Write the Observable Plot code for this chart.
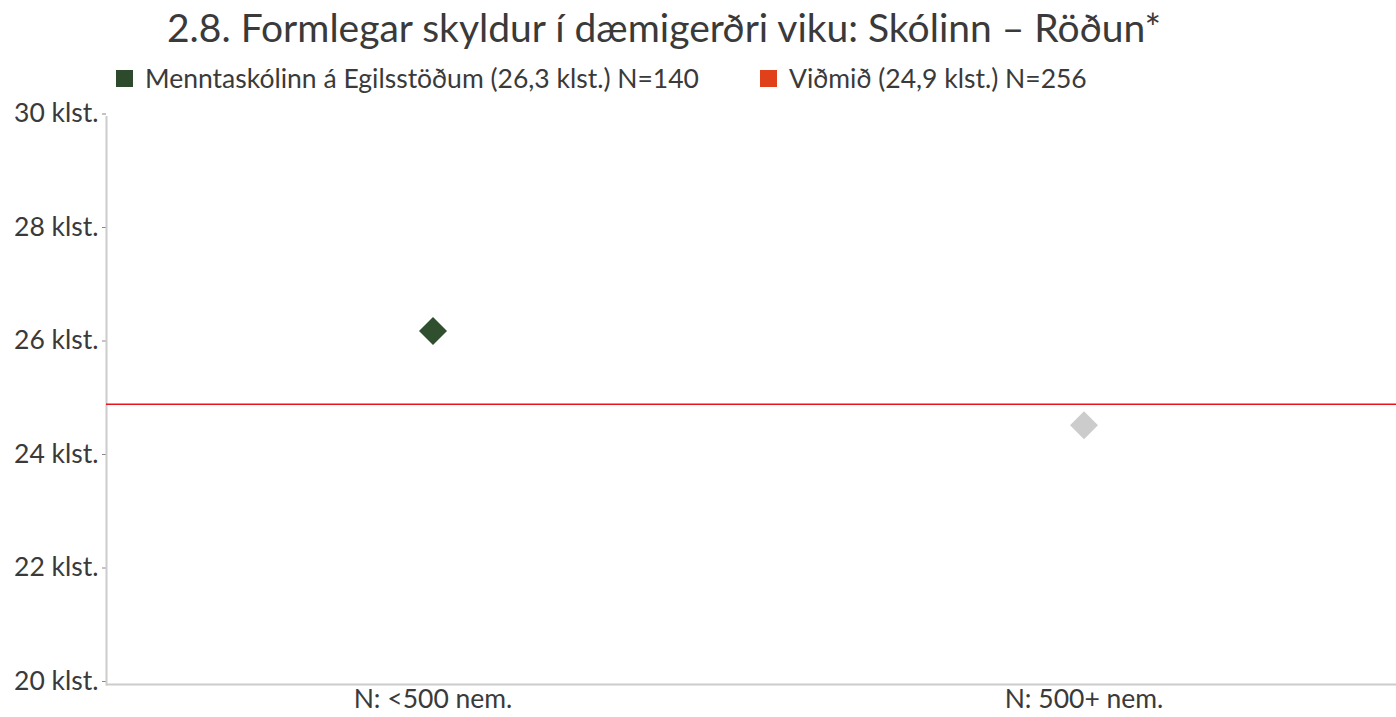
<!DOCTYPE html>
<html>
<head>
<meta charset="utf-8">
<script src="https://cdn.jsdelivr.net/npm/d3@7"></script>
<script src="https://cdn.jsdelivr.net/npm/@observablehq/plot@0.6"></script>
<style>
  html, body { margin: 0; padding: 0; background: #fff; width: 1396px; height: 717px; overflow: hidden; font-family: Lato, "Noto Sans", sans-serif; }
  #title { position: absolute; left: 167px; top: 7.5px; font-size: 39px; line-height: 1; color: #3a3a3a; white-space: nowrap; }
  .sw { position: absolute; top: 70px; width: 17px; height: 17px; }
  .lt { position: absolute; top: 64.5px; font-size: 26.5px; line-height: 1; color: #3a3a3a; white-space: nowrap; }
  #chart { position: absolute; left: 0; top: 95px; }
</style>
</head>
<body>
<div id="title"></div>
<span class="sw" style="left:116px;background:#2d4a2d"></span><span id="lt1" class="lt" style="left:145px"></span>
<span class="sw" style="left:760px;background:#e0401a"></span><span id="lt2" class="lt" style="left:789px"></span>
<div id="chart"></div>
<script>
const title = "2.8. Formlegar skyldur í dæmigerðri viku: Skólinn – Röðun*";
const seriesNames = ["Menntaskólinn á Egilsstöðum (26,3 klst.) N=140", "Viðmið (24,9 klst.) N=256"];
const categories = ["N: <500 nem.", "N: 500+ nem."];
const values = [26.23, 24.57];
const pointColors = ["#2f4f2f", "#cccccc"];
const benchmark = [24.94];
const yTicks = [20, 22, 24, 26, 28, 30];

document.getElementById("title").textContent = title;
document.getElementById("lt1").textContent = seriesNames[0];
document.getElementById("lt2").textContent = seriesNames[1];

const data = categories.map((c, i) => ({cat: c, value: values[i], color: pointColors[i]}));

const chart = Plot.plot({
  width: 1396,
  height: 622,
  marginLeft: 106,
  marginRight: 0,
  marginTop: 21.5,
  marginBottom: 33,
  style: {fontFamily: "Lato, 'Noto Sans', sans-serif", fontSize: "26.5px", color: "#3a3a3a", background: "#fff", overflow: "visible"},
  x: {type: "band", domain: categories, range: [106, 1409], padding: 0, label: null},
  y: {domain: [20, 30], label: null},
  marks: [
    Plot.axisY({ticks: yTicks, tickFormat: d => `${d} klst.`, tickSize: 4, tickPadding: 4, stroke: "#888", fontSize: 26.5, dy: -3, label: null}),
    Plot.axisX({tickSize: 0, tickPadding: 5, fontSize: 26.5, label: null}),
    Plot.frame({anchor: "left", stroke: "#cccccc", strokeWidth: 2}),
    Plot.ruleY([20], {stroke: "#cccccc", strokeWidth: 2}),
    Plot.ruleY(benchmark, {stroke: "#e8141c", strokeWidth: 1.5}),
    Plot.dot(data, {x: "cat", y: "value", symbol: "diamond2", r: 12.6, fill: d => d.color, stroke: null})
  ]
});
document.getElementById("chart").appendChild(chart);
</script>
</body>
</html>
